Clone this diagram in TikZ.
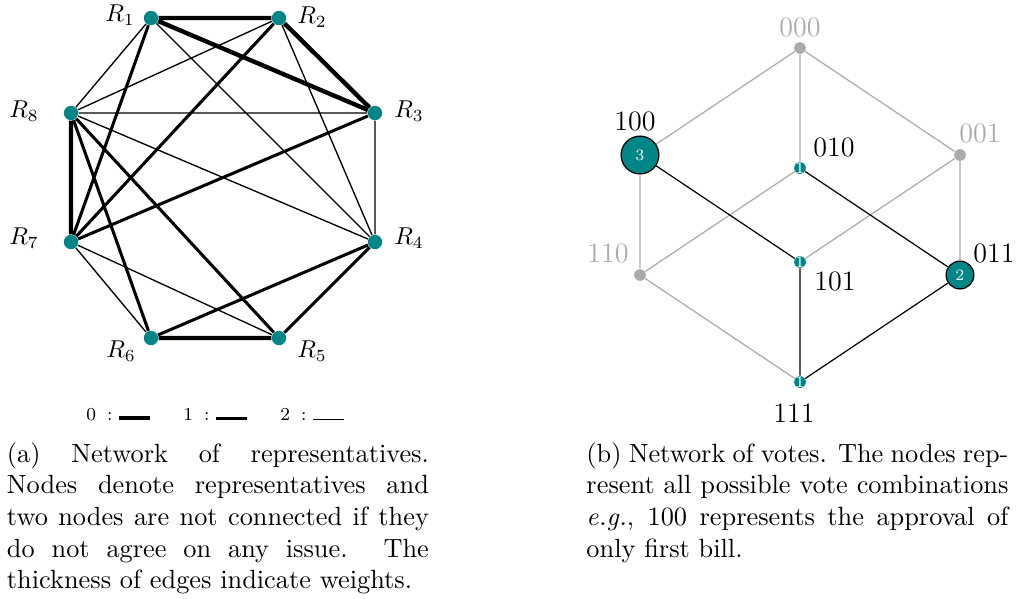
\documentclass[tikz,border=0pt]{standalone}
\usetikzlibrary{backgrounds}
\definecolor{tealc}{RGB}{0,134,134}
\definecolor{lgray}{RGB}{170,170,170}
\begin{document}
\begin{tikzpicture}[x=0.41pt,y=-0.41pt,
  rep/.style={circle,fill=tealc,inner sep=0pt,minimum size=5.9pt},
  rlab/.style={inner sep=0pt,font=\fontsize{10}{12}\selectfont},
  w0/.style={line width=1.8pt},
  w1/.style={line width=1.25pt},
  w2/.style={line width=0.55pt},
  gnode/.style={circle,fill=lgray,inner sep=0pt,minimum size=4.8pt},
  vsmall/.style={circle,fill=tealc,inner sep=0pt,minimum size=4.8pt},
  vbig/.style={circle,fill=tealc,draw=black,line width=0.5pt,inner sep=0pt},
  numlab/.style={inner sep=0pt,text=white,font=\fontsize{6.5}{7}\selectfont},
  clab/.style={inner sep=0pt,font=\fontsize{11.5}{14}\selectfont},
  glab/.style={clab,text=lgray},
  gedge/.style={draw=lgray,line width=0.5pt},
  bedge/.style={draw=black,line width=0.5pt},
  captxt/.style={inner sep=0pt,anchor=base west,font=\fontsize{10.8}{13}\selectfont},
  leg/.style={inner sep=0pt,anchor=base west,font=\fontsize{7.5}{9}\selectfont}
]
\useasboundingbox (0,0) rectangle (1017,598);

% ---------- network of representatives ----------
\node[rep] (R1) at (151,18) {};
\node[rep] (R2) at (279,18) {};
\node[rep] (R3) at (375,113) {};
\node[rep] (R4) at (375,242) {};
\node[rep] (R5) at (279,338) {};
\node[rep] (R6) at (151,338) {};
\node[rep] (R7) at (71,242) {};
\node[rep] (R8) at (71,113) {};

\node[rlab] (L1) at (120,15) {$R_1$};
\node[rlab] (L2) at (312,17) {$R_2$};
\node[rlab] (L3) at (409,111) {$R_3$};
\node[rlab] (L4) at (409,238) {$R_4$};
\node[rlab] (L5) at (312,351) {$R_5$};
\node[rlab] (L6) at (121,351) {$R_6$};
\node[rlab] (L7) at (24,238) {$R_7$};
\node[rlab] (L8) at (24,111) {$R_8$};

\begin{scope}[on background layer]
\draw[w0] (R1)--(R2) (R1)--(R3) (R2)--(R3) (R5)--(R6) (R7)--(R8);
\draw[w1] (R1)--(R7) (R2)--(R7) (R3)--(R7) (R8)--(R6) (R8)--(R5) (R6)--(R4) (R5)--(R4);
\draw[w2] (R1)--(R8) (R1)--(R4) (R2)--(R8) (R2)--(R4) (R8)--(R3) (R8)--(R4) (R3)--(R4) (R7)--(R6) (R7)--(R5);
\end{scope}

% legend
\node[leg] (lg0) at (86,420) {0\hspace{4.5pt}:\hspace{2.5pt}\rule{13pt}{1.76pt}};
\node[leg] (lg1) at (183,420) {1\hspace{4.5pt}:\hspace{2.5pt}\rule{13pt}{1.23pt}};
\node[leg] (lg2) at (280,420) {2\hspace{4.5pt}:\hspace{2.5pt}\rule{13pt}{0.53pt}};

% ---------- network of votes ----------
\node[gnode] (c000) at (800,48) {};
\node[vbig,minimum size=15.5pt,label={[numlab]center:3}] (c100) at (640,155) {};
\node[vsmall,label={[numlab]center:1}] (c010) at (800,168) {};
\node[gnode] (c001) at (960,155) {};
\node[gnode] (c110) at (640,275) {};
\node[vsmall,label={[numlab]center:1}] (c101) at (800,262) {};
\node[vbig,minimum size=11.4pt,label={[numlab]center:2}] (c011) at (960,275) {};
\node[vsmall,label={[numlab]center:1}] (c111) at (800,382) {};

\begin{scope}[on background layer]
\draw[gedge] (c000)--(c100) (c000)--(c010) (c000)--(c001) (c100)--(c110)
  (c010)--(c110) (c001)--(c101) (c001)--(c011) (c110)--(c111);
\draw[bedge] (c100)--(c101) (c010)--(c011) (c101)--(c111) (c011)--(c111);
\end{scope}

\node[glab] (t000) at (800,27) {000};
\node[clab] (t100) at (635,121) {100};
\node[clab] (t010) at (834,147) {010};
\node[glab] (t001) at (980,133) {001};
\node[glab] (t110) at (608,253) {110};
\node[clab] (t101) at (835,281) {101};
\node[clab] (t011) at (994,253) {011};
\node[clab] (t111) at (794,413) {111};

% ---------- captions ----------
\node[captxt] (a1) at (6.5,462.3) {\makebox[173pt][s]{(a) Network of representatives.}};
\node[captxt] (a2) at (6.5,493.9) {\makebox[173pt][s]{Nodes denote representatives and}};
\node[captxt] (a3) at (6.5,525.5) {\makebox[173pt][s]{two nodes are not connected if they}};
\node[captxt] (a4) at (6.5,557.1) {\makebox[173pt][s]{do not agree on any issue.  The}};
\node[captxt] (a5) at (6.5,588.7) {thickness of edges indicate weights.};

\node[captxt] (b1) at (586,462.3) {\makebox[173pt][s]{(b) Network of votes. The nodes rep-}};
\node[captxt] (b2) at (586,493.9) {\makebox[173pt][s]{resent all possible vote combinations}};
\node[captxt] (b3) at (586,525.5) {\makebox[173pt][s]{\textit{e.g.}, 100 represents the approval of}};
\node[captxt] (b4) at (586,557.1) {only first bill.};
\end{tikzpicture}
\end{document}
